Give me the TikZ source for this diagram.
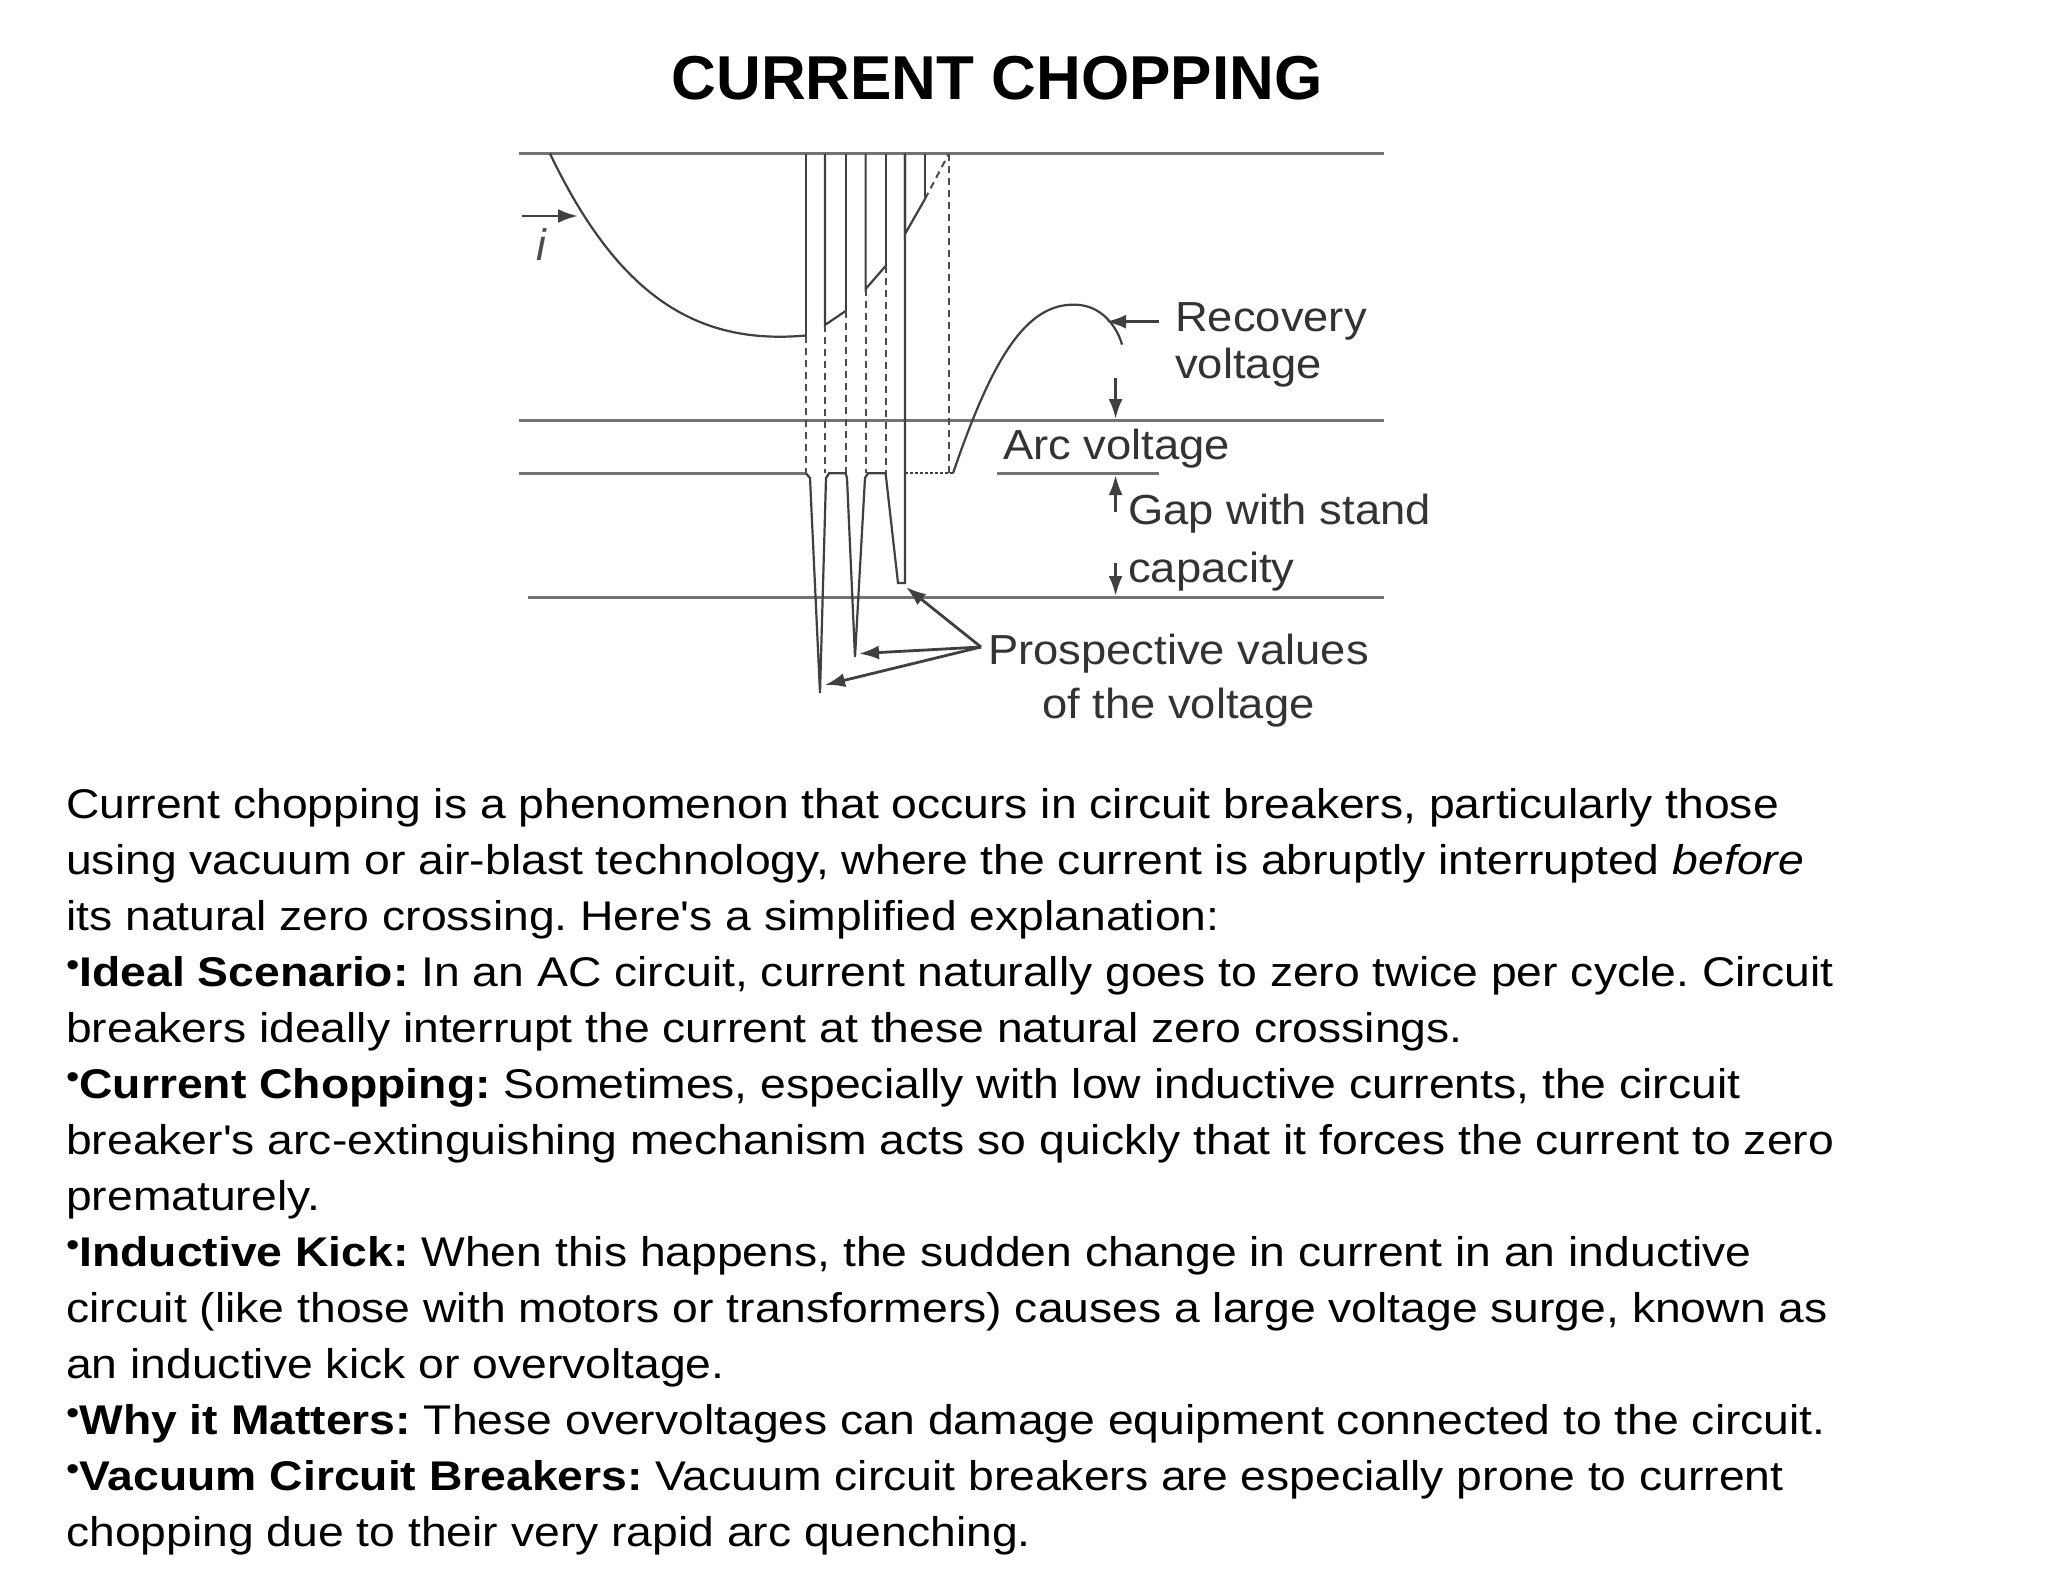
\documentclass[tikz,border=0pt]{standalone}
\usepackage{fontspec}
\setmainfont{Liberation Sans}
\newfontfamily\bodyfont[FakeStretch=1.115]{Liberation Sans}
\newfontfamily\lblfont[FakeStretch=1.08]{Liberation Sans}
\usetikzlibrary{arrows.meta}
\begin{document}
\begin{tikzpicture}[x=1pt,y=-1pt,
  axis/.style={draw=black!55,line width=3pt},
  wave/.style={draw=black!75,line width=2.2pt},
  dsh/.style={draw=black!70,line width=2pt,dash pattern=on 7pt off 5pt},
  arr/.style={draw=black!75,line width=2.8pt,-{Latex[length=20pt,width=14pt]}},
  lbl/.style={anchor=base west,inner sep=0pt,text=black!80,font=\lblfont\fontsize{42}{48}\selectfont},
  body/.style={anchor=base west,inner sep=0pt,font=\bodyfont\frenchspacing\fontsize{41.5}{48}\selectfont}]
\useasboundingbox (0,0) rectangle (2048,1582);
\fill[white] (0,0) rectangle (2048,1582);
% title
\node[inner sep=0pt,font=\fontsize{62}{66}\selectfont\bfseries] (title) at (997,78) {CURRENT CHOPPING};
% axes
\coordinate (t1) at (519,153.6); \coordinate (t2) at (1384,153.6);
\draw[axis] (t1) -- (t2);
\coordinate (a1) at (519,420.5); \coordinate (a2) at (1384,420.5);
\draw[axis] (a1) -- (a2);
\coordinate (b1) at (519,473.3); \coordinate (b2) at (806,473.3);
\draw[axis] (b1) -- (b2);
\coordinate (s1) at (997,473.3); \coordinate (s2) at (1159,473.3);
\draw[axis] (s1) -- (s2);
\coordinate (c1) at (528,597.3); \coordinate (c2) at (1384,597.3);
\draw[axis] (c1) -- (c2);
% current curve
\coordinate (i0) at (550,153.6); \coordinate (i1) at (806,335.5);
\draw[wave] (i0) .. controls (620,300) and (700,345) .. (i1);
% verticals and current steps
\draw[wave] (806,153.6) -- (i1);
\draw[wave] (825,153.6) -- (825,325) -- (845.6,311);
\draw[wave] (845.6,153.6) -- (845.6,311);
\draw[wave] (865.6,153.6) -- (865.6,289) -- (885.6,266);
\draw[wave] (885.6,153.6) -- (885.6,266);
\draw[wave] (905,153.6) -- (905,234) -- (925,199);
\draw[wave] (925,153.6) -- (925,199);
\draw[dsh] (925,199) -- (948.8,153.6);
\draw[dsh] (948.8,153.6) -- (948.8,473.3);
\foreach \x/\y in {806/335.5,825/325,845.6/311,865.6/289,885.6/266}
  \draw[dsh] (\x,\y) -- (\x,473.3);
% voltage spikes
\draw[wave] (806,473.3) -- (810,478) -- (820,693) -- (826,478) -- (829,473.3) -- (845.6,473.3)
  -- (847,478) -- (855,657) -- (865,478) -- (868,473.3) -- (885.6,473.3)
  -- (898,583) -- (905,583) -- (905,153.6);
\draw[wave,dash pattern=on 3pt off 2pt] (905,473.3) -- (953,473.3);
% recovery voltage
\coordinate (r0) at (953,473.3); \coordinate (r1) at (1122,344.6);
\draw[wave] (r0) .. controls (995,350) and (1030,300) .. (1080,305) .. controls (1105,308) and (1118,330) .. (r1);
% i label
\coordinate (ia) at (522,216); \coordinate (ib) at (578,216);
\draw[arr] (ia) -- (ib);
\node[inner sep=0pt,font=\fontsize{44}{48}\selectfont\itshape,text=black!70] (ilbl) at (541,245) {i};
% labels
\node[lbl] (rec) at (1175,331) {Recovery};
\node[lbl] (vol) at (1175,378) {voltage};
\node[lbl] (arcv) at (1003,459) {Arc voltage};
\node[lbl] (gap) at (1128,524) {Gap with stand};
\node[lbl] (cap) at (1128,582) {capacity};
\node[lbl] (pro) at (988,664) {Prospective values};
\node[lbl] (oft) at (1042,718) {of the voltage};
% arrows
\coordinate (ra) at (1159,321.7); \coordinate (rb) at (1106,321.7);
\draw[arr] (ra) -- (rb);
\coordinate (va) at (1115.6,378); \coordinate (vb) at (1115.6,419);
\draw[arr] (va) -- (vb);
\coordinate (ga) at (1115.6,512); \coordinate (gb) at (1115.6,475);
\draw[arr] (ga) -- (gb);
\coordinate (ka) at (1115.6,563); \coordinate (kb) at (1115.6,596);
\draw[arr] (ka) -- (kb);
\coordinate (po) at (981,647);
\coordinate (p1) at (906,587); \coordinate (p2) at (859,653.6); \coordinate (p3) at (825,685);
\draw[arr] (po) -- (p1);
\draw[arr] (po) -- (p2);
\draw[arr] (po) -- (p3);
% body text
\newcommand\bul{\raisebox{0.22em}{\fontsize{34}{34}\selectfont\textbullet}}
\node[body] (l1) at (66,818) {Current chopping is a phenomenon that occurs in circuit breakers, particularly those};
\node[body] (l2) at (66,874) {using vacuum or air-blast technology, where the current is abruptly interrupted \textit{before}};
\node[body] (l3) at (66,930) {its natural zero crossing. Here\symbol{39}s a simplified explanation:};
\node[body] (l4) at (66,986) {\bul\textbf{Ideal Scenario:} In an AC circuit, current naturally goes to zero twice per cycle. Circuit};
\node[body] (l5) at (66,1042) {breakers ideally interrupt the current at these natural zero crossings.};
\node[body] (l6) at (66,1098) {\bul\textbf{Current Chopping:} Sometimes, especially with low inductive currents, the circuit};
\node[body] (l7) at (66,1154) {breaker\symbol{39}s arc-extinguishing mechanism acts so quickly that it forces the current to zero};
\node[body] (l8) at (66,1210) {prematurely.};
\node[body] (l9) at (66,1266) {\bul\textbf{Inductive Kick:} When this happens, the sudden change in current in an inductive};
\node[body] (l10) at (66,1322) {circuit (like those with motors or transformers) causes a large voltage surge, known as};
\node[body] (l11) at (66,1378) {an inductive kick or overvoltage.};
\node[body] (l12) at (66,1434) {\bul\textbf{Why it Matters:} These overvoltages can damage equipment connected to the circuit.};
\node[body] (l13) at (66,1490) {\bul\textbf{Vacuum Circuit Breakers:} Vacuum circuit breakers are especially prone to current};
\node[body] (l14) at (66,1546) {chopping due to their very rapid arc quenching.};
\end{tikzpicture}
\end{document}
